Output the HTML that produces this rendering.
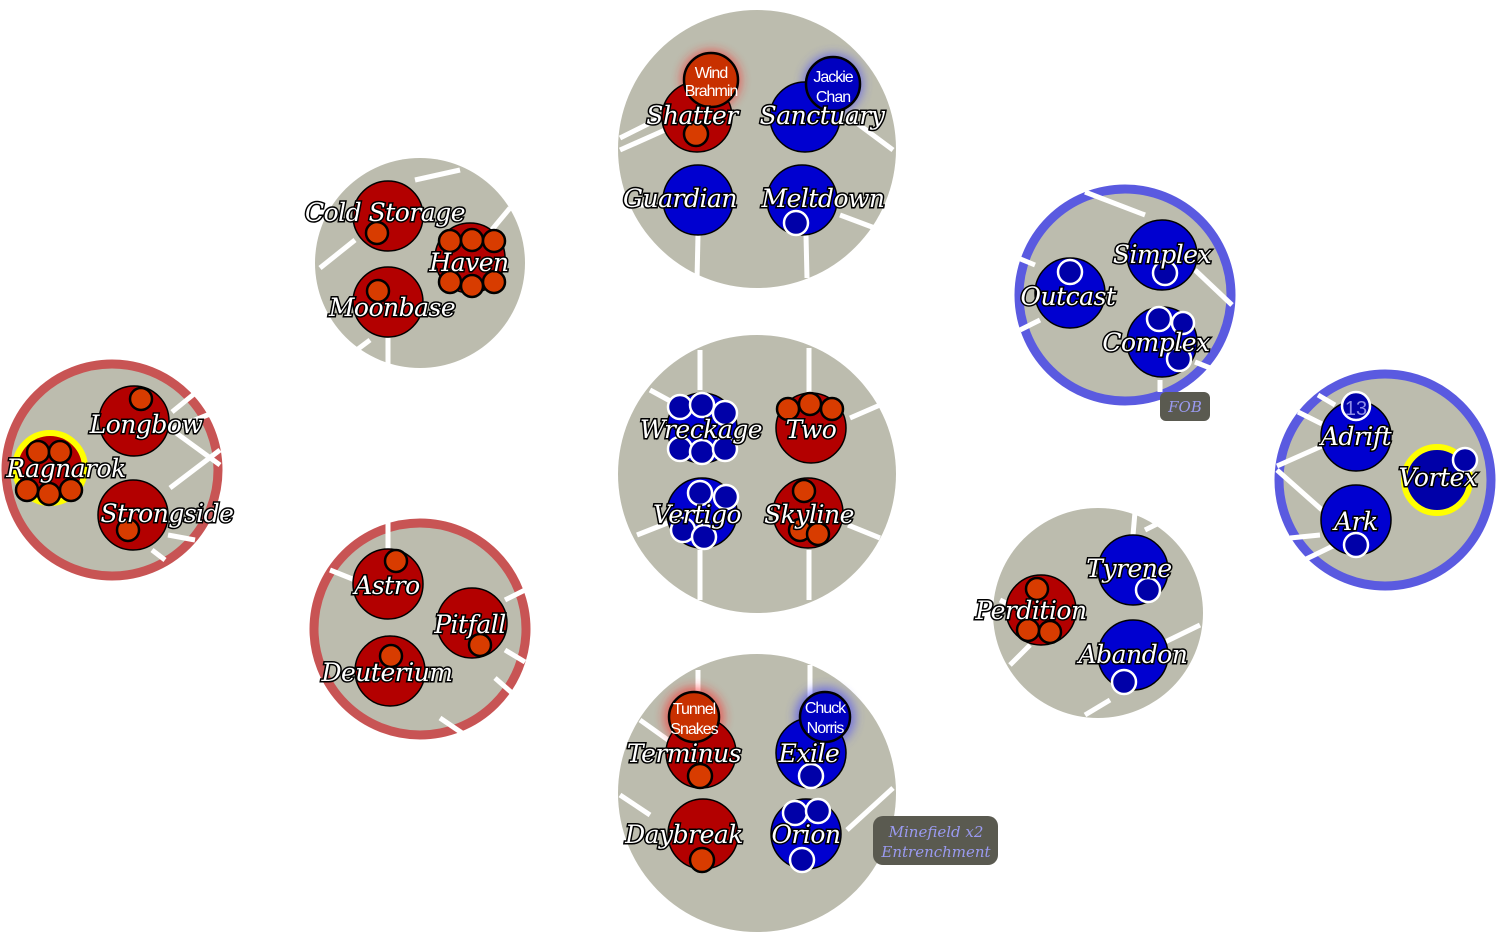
<!DOCTYPE html>
<html><head><meta charset="utf-8"><style>
html,body{margin:0;padding:0;background:#fff}
svg{display:block}
.g{fill:#bcbcae}
.R{fill:#b30000;stroke:#000;stroke-width:1.5}
.B{fill:#0000d0;stroke:#000;stroke-width:1.5}
.r{fill:#d83c00;stroke:#000;stroke-width:2.5}
.b{fill:#0000a8;stroke:#fff;stroke-width:2.5}
.w{stroke:#fff;stroke-width:5;fill:none}
.t{font-family:"DejaVu Serif","Liberation Serif",serif;font-style:italic;font-size:25px;fill:#fff;stroke:#000;stroke-width:3;paint-order:stroke;text-anchor:middle;letter-spacing:-0.5px}
.s{font-family:"Liberation Sans",sans-serif;font-size:16px;fill:#fff;text-anchor:middle;letter-spacing:-1px}
.l{font-family:"DejaVu Serif","Liberation Serif",serif;font-style:italic;font-size:15px;fill:#9a9af0;text-anchor:middle}
</style></head><body>
<svg width="1497" height="942" viewBox="0 0 1497 942" xmlns="http://www.w3.org/2000/svg">
<defs>
<filter id="bl" x="-50%" y="-50%" width="200%" height="200%"><feGaussianBlur stdDeviation="5"/></filter>
</defs>
<circle class="g" cx="757" cy="149" r="139"/>
<circle class="g" cx="757" cy="474" r="139"/>
<circle class="g" cx="757" cy="793" r="139"/>
<circle class="g" cx="420" cy="263" r="105"/>
<circle class="g" cx="1098" cy="613" r="105"/>
<circle class="g" cx="112" cy="470" r="106" stroke="#c85454" stroke-width="9"/>
<circle class="g" cx="420" cy="629" r="106" stroke="#c85454" stroke-width="9"/>
<circle class="g" cx="1125" cy="295" r="106" stroke="#5a5ae0" stroke-width="9"/>
<circle class="g" cx="1385" cy="480" r="106" stroke="#5a5ae0" stroke-width="9"/>

<g class="w">
<line x1="620" y1="138" x2="660" y2="118"/><line x1="620" y1="150" x2="665" y2="130"/>
<line x1="850" y1="118" x2="893" y2="150"/><line x1="840" y1="215" x2="880" y2="230"/>
<line x1="698" y1="235" x2="697" y2="280"/><line x1="806" y1="235" x2="807" y2="278"/>
<line x1="620" y1="205" x2="660" y2="205"/>
<line x1="700" y1="350" x2="700" y2="390"/><line x1="809" y1="348" x2="809" y2="392"/>
<line x1="650" y1="390" x2="672" y2="402"/><line x1="850" y1="418" x2="880" y2="405"/>
<line x1="637" y1="535" x2="670" y2="522"/><line x1="848" y1="525" x2="880" y2="538"/>
<line x1="700" y1="550" x2="700" y2="600"/><line x1="809" y1="550" x2="809" y2="600"/>
<line x1="698" y1="670" x2="698" y2="700"/><line x1="810" y1="665" x2="810" y2="700"/>
<line x1="640" y1="720" x2="668" y2="740"/><line x1="620" y1="795" x2="650" y2="815"/>
<line x1="847" y1="830" x2="893" y2="788"/>
<line x1="460" y1="170" x2="415" y2="180"/><line x1="510" y1="208" x2="490" y2="232"/>
<line x1="320" y1="268" x2="355" y2="240"/><line x1="350" y1="355" x2="370" y2="340"/>
<line x1="388" y1="338" x2="388" y2="365"/>
<line x1="172" y1="412" x2="205" y2="385"/><line x1="170" y1="430" x2="220" y2="410"/>
<line x1="172" y1="430" x2="220" y2="465"/><line x1="170" y1="488" x2="220" y2="450"/>
<line x1="168" y1="535" x2="195" y2="540"/><line x1="152" y1="550" x2="165" y2="560"/>
<line x1="388" y1="520" x2="388" y2="550"/><line x1="330" y1="570" x2="355" y2="580"/>
<line x1="505" y1="600" x2="525" y2="590"/><line x1="505" y1="650" x2="525" y2="662"/>
<line x1="495" y1="678" x2="520" y2="700"/><line x1="440" y1="718" x2="462" y2="733"/>
<line x1="1085" y1="192" x2="1145" y2="215"/><line x1="1018" y1="258" x2="1035" y2="265"/>
<line x1="1020" y1="330" x2="1040" y2="320"/><line x1="1195" y1="270" x2="1232" y2="305"/>
<line x1="1195" y1="362" x2="1215" y2="370"/><line x1="1160" y1="380" x2="1160" y2="392"/>
<line x1="1318" y1="395" x2="1335" y2="405"/><line x1="1298" y1="412" x2="1322" y2="424"/>
<line x1="1277" y1="466" x2="1322" y2="446"/><line x1="1277" y1="470" x2="1322" y2="510"/>
<line x1="1290" y1="538" x2="1320" y2="535"/><line x1="1300" y1="562" x2="1335" y2="545"/>
<line x1="1135" y1="512" x2="1133" y2="535"/><line x1="1145" y1="530" x2="1165" y2="520"/>
<line x1="1175" y1="540" x2="1190" y2="535"/><line x1="1000" y1="600" x2="1010" y2="605"/>
<line x1="1010" y1="665" x2="1030" y2="645"/><line x1="1165" y1="642" x2="1200" y2="625"/>
<line x1="1085" y1="715" x2="1110" y2="700"/>
</g>

<circle cx="711" cy="80" r="30" fill="#ff2020" opacity="0.6" filter="url(#bl)"/>
<circle cx="833" cy="84" r="30" fill="#4040ff" opacity="0.6" filter="url(#bl)"/>
<circle cx="694" cy="717" r="30" fill="#ff2020" opacity="0.6" filter="url(#bl)"/>
<circle cx="825" cy="717" r="30" fill="#4040ff" opacity="0.6" filter="url(#bl)"/>

<circle class="R" cx="697" cy="117" r="35"/><circle class="r" cx="696" cy="134" r="12"/>
<circle class="B" cx="805" cy="117" r="35"/>
<circle class="B" cx="698" cy="200" r="35"/>
<circle class="B" cx="802" cy="200" r="35"/><circle class="b" cx="796" cy="223" r="12"/>
<circle cx="711" cy="80" r="27" fill="#c83000" stroke="#000" stroke-width="2.5"/>
<text class="s" x="711" y="78">Wind</text><text class="s" x="711" y="96">Brahmin</text>
<circle cx="833" cy="84" r="27" fill="#0000c0" stroke="#000" stroke-width="2.5"/>
<text class="s" x="833" y="82">Jackie</text><text class="s" x="833" y="102">Chan</text>

<circle class="R" cx="388" cy="216" r="35"/><circle class="r" cx="377" cy="233" r="11"/>
<circle class="R" cx="470" cy="258" r="35"/>
<circle class="r" cx="450" cy="241" r="11"/><circle class="r" cx="472" cy="240" r="11"/><circle class="r" cx="494" cy="241" r="11"/>
<circle class="r" cx="450" cy="282" r="11"/><circle class="r" cx="472" cy="286" r="11"/><circle class="r" cx="494" cy="282" r="11"/>
<circle class="R" cx="388" cy="302" r="35"/><circle class="r" cx="378" cy="291" r="11"/>

<circle class="R" cx="134" cy="421" r="35"/><circle class="r" cx="141" cy="399" r="11"/>
<circle cx="50" cy="468" r="35" fill="#b30000" stroke="#ffff00" stroke-width="6"/>
<circle class="r" cx="38" cy="452" r="11"/><circle class="r" cx="60" cy="452" r="11"/>
<circle class="r" cx="27" cy="490" r="11"/><circle class="r" cx="49" cy="494" r="11"/><circle class="r" cx="71" cy="490" r="11"/>
<circle class="R" cx="133" cy="515" r="35"/><circle class="r" cx="128" cy="530" r="11"/>

<circle class="B" cx="702" cy="428" r="35"/>
<circle class="b" cx="680" cy="407" r="12"/><circle class="b" cx="702" cy="405" r="12"/><circle class="b" cx="725" cy="413" r="12"/>
<circle class="b" cx="680" cy="449" r="12"/><circle class="b" cx="702" cy="452" r="12"/><circle class="b" cx="725" cy="449" r="12"/>
<circle class="R" cx="811" cy="428" r="35"/>
<circle class="r" cx="788" cy="409" r="11"/><circle class="r" cx="810" cy="404" r="11"/><circle class="r" cx="832" cy="409" r="11"/>
<circle class="B" cx="702" cy="513" r="35"/>
<circle class="b" cx="700" cy="493" r="12"/><circle class="b" cx="726" cy="497" r="12"/><circle class="b" cx="683" cy="530" r="12"/><circle class="b" cx="704" cy="537" r="12"/>
<circle class="R" cx="808" cy="513" r="35"/>
<circle class="r" cx="804" cy="491" r="11"/><circle class="r" cx="800" cy="530" r="11"/><circle class="r" cx="818" cy="534" r="11"/>

<circle class="R" cx="388" cy="584" r="35"/><circle class="r" cx="396" cy="561" r="11"/>
<circle class="R" cx="472" cy="623" r="35"/><circle class="r" cx="480" cy="645" r="11"/>
<circle class="R" cx="390" cy="671" r="35"/><circle class="r" cx="391" cy="656" r="11"/>

<circle class="R" cx="701" cy="753" r="35"/><circle class="r" cx="700" cy="776" r="12"/>
<circle class="B" cx="811" cy="753" r="35"/><circle class="b" cx="811" cy="776" r="12"/>
<circle class="R" cx="703" cy="834" r="35"/><circle class="r" cx="702" cy="860" r="12"/>
<circle class="B" cx="806" cy="834" r="35"/>
<circle class="b" cx="795" cy="813" r="12"/><circle class="b" cx="818" cy="811" r="12"/><circle class="b" cx="802" cy="860" r="12"/>
<circle cx="694" cy="717" r="25" fill="#c83000" stroke="#000" stroke-width="2.5"/>
<text class="s" x="694" y="714">Tunnel</text><text class="s" x="694" y="734">Snakes</text>
<circle cx="825" cy="717" r="25" fill="#0000c0" stroke="#000" stroke-width="2.5"/>
<text class="s" x="825" y="713">Chuck</text><text class="s" x="825" y="733">Norris</text>

<circle class="B" cx="1070" cy="293" r="35"/><circle class="b" cx="1070" cy="272" r="12"/>
<circle class="B" cx="1162" cy="255" r="35"/><circle class="b" cx="1165" cy="273" r="12"/>
<circle class="B" cx="1162" cy="342" r="35"/>
<circle class="b" cx="1159" cy="319" r="12"/><circle class="b" cx="1183" cy="323" r="11"/><circle class="b" cx="1179" cy="359" r="12"/>

<circle class="B" cx="1356" cy="436" r="35"/><circle class="b" cx="1356" cy="406" r="14"/>
<text x="1356" y="415" font-family="Liberation Sans,sans-serif" font-size="20" fill="#8c8ce8" text-anchor="middle">13</text>
<circle cx="1437" cy="480" r="33" fill="#0000a8" stroke="#ffff00" stroke-width="6"/><circle class="b" cx="1465" cy="460" r="12"/>
<circle class="B" cx="1356" cy="520" r="35"/><circle class="b" cx="1356" cy="545" r="12"/>

<circle class="R" cx="1041" cy="610" r="35"/>
<circle class="r" cx="1037" cy="589" r="11"/><circle class="r" cx="1028" cy="630" r="11"/><circle class="r" cx="1050" cy="632" r="11"/>
<circle class="B" cx="1133" cy="570" r="35"/><circle class="b" cx="1148" cy="590" r="12"/>
<circle class="B" cx="1133" cy="655" r="35"/><circle class="b" cx="1124" cy="682" r="12"/>

<rect x="1160" y="392" width="50" height="29" rx="6" fill="#5a5a50"/>
<text class="l" x="1185" y="412">FOB</text>
<rect x="873" y="816" width="125" height="49" rx="10" fill="#5a5a50"/>
<text class="l" x="936" y="837">Minefield x2</text><text class="l" x="936" y="857">Entrenchment</text>

<g class="t">
<text x="692" y="124">Shatter</text><text x="822" y="124">Sanctuary</text>
<text x="680" y="207">Guardian</text><text x="823" y="207">Meltdown</text>
<text x="385" y="221">Cold Storage</text><text x="469" y="271">Haven</text><text x="392" y="316">Moonbase</text>
<text x="146" y="433">Longbow</text><text x="66" y="477">Ragnarok</text><text x="167" y="522">Strongside</text>
<text x="701" y="438">Wreckage</text><text x="811" y="438">Two</text>
<text x="697" y="523">Vertigo</text><text x="809" y="523">Skyline</text>
<text x="387" y="594">Astro</text><text x="470" y="633">Pitfall</text><text x="387" y="681">Deuterium</text>
<text x="684" y="762">Terminus</text><text x="809" y="762">Exile</text>
<text x="684" y="843">Daybreak</text><text x="806" y="843">Orion</text>
<text x="1068" y="305">Outcast</text><text x="1162" y="263">Simplex</text><text x="1156" y="351">Complex</text>
<text x="1356" y="445">Adrift</text><text x="1438" y="486">Vortex</text><text x="1356" y="530">Ark</text>
<text x="1031" y="619">Perdition</text><text x="1129" y="577">Tyrene</text><text x="1133" y="663">Abandon</text>
</g>
</svg>
</body></html>
